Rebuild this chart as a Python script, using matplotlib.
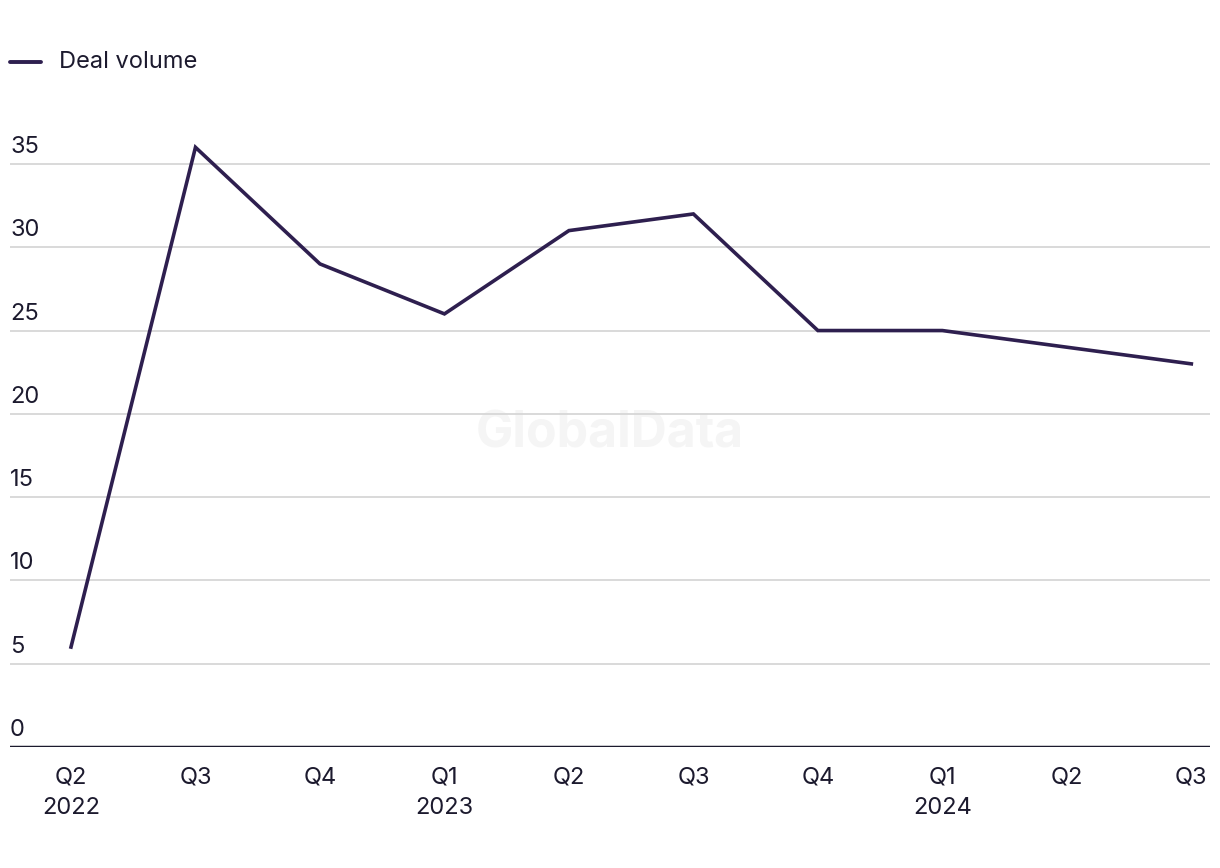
import matplotlib.pyplot as plt
import matplotlib.transforms as mtransforms
import numpy as np

plt.rcParams['font.family'] = ['Inter', 'DejaVu Sans']

# Data
quarters = ['Q2\n2022', 'Q3', 'Q4', 'Q1\n2023', 'Q2', 'Q3', 'Q4', 'Q1\n2024', 'Q2', 'Q3']
deal_volume = [6, 36, 29, 26, 31, 32, 25, 25, 24, 23]
y_ticks = [0, 5, 10, 15, 20, 25, 30, 35]

line_color = '#2e1f4f'
text_color = '#1c1a2e'
grid_color = '#d9d9d9'

fig = plt.figure(figsize=(12.2, 8.68), dpi=100)
ax = fig.add_axes([10 / 1220, (868 - 747) / 868, 1200 / 1220, (747 - 114) / 868])

x = np.arange(len(quarters))
ax.plot(x, deal_volume, color=line_color, linewidth=2.6, solid_joinstyle='miter',
        zorder=3)

ax.set_xlim(-0.49, 9.15)
ax.set_ylim(0, 38)

# gridlines + labels sitting above them
trans = mtransforms.blended_transform_factory(ax.transAxes, ax.transData)
offset = mtransforms.ScaledTranslation(0, 6 / 100, fig.dpi_scale_trans)
for t in y_ticks[1:]:
    ax.axhline(t, color=grid_color, linewidth=1.4, zorder=1)
for t in y_ticks:
    ax.text(0, t, str(t), transform=trans + offset, ha='left', va='bottom',
            fontsize=17, color=text_color)

ax.axhline(0, color=text_color, linewidth=2.5, zorder=4)

ax.set_yticks([])
ax.set_xticks(x)
ax.set_xticklabels(quarters, fontsize=17, color=text_color, linespacing=1.5)
ax.tick_params(axis='x', length=0, pad=14)
for s in ax.spines.values():
    s.set_visible(False)

# watermark
ax.text(0.5, 0.5, 'GlobalData', transform=fig.transFigure, ha='center', va='center',
        fontsize=36, fontweight='bold', color='#f5f5f5', zorder=0)

# legend
fig.add_artist(plt.Line2D([10 / 1220, 41 / 1220], [1 - 62 / 868, 1 - 62 / 868],
                          color=line_color, linewidth=2.8, transform=fig.transFigure,
                          solid_capstyle='round'))
fig.text(59 / 1220, 1 - 62 / 868, 'Deal volume', ha='left', va='center',
         fontsize=17, color=text_color)

fig.savefig('out.png', dpi=100)
